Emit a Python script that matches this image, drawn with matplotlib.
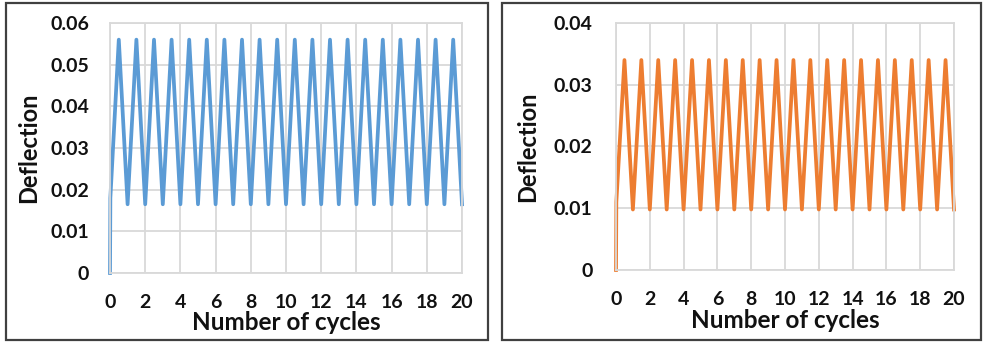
"""
Deflection vs number of cycles: two side-by-side panels.
"""

import matplotlib.pyplot as plt
from matplotlib.patches import Rectangle

plt.rcParams["font.family"] = ["Lato", "DejaVu Sans"]
plt.rcParams["font.weight"] = "bold"

# time axis (cycles) and deflection values
cycles = [0, 0.02, 0.5, 1, 1.5, 2, 2.5, 3, 3.5, 4, 4.5, 5, 5.5, 6, 6.5, 7,
          7.5, 8, 8.5, 9, 9.5, 10, 10.5, 11, 11.5, 12, 12.5, 13, 13.5, 14,
          14.5, 15, 15.5, 16, 16.5, 17, 17.5, 18, 18.5, 19, 19.5, 20]

defl_left = [0, 0.018,
             0.056, 0.0165, 0.056, 0.0165, 0.056, 0.0165, 0.056, 0.0165,
             0.056, 0.0165, 0.056, 0.0165, 0.056, 0.0165, 0.056, 0.0165,
             0.056, 0.0165, 0.056, 0.0165, 0.056, 0.0165, 0.056, 0.0165,
             0.056, 0.0165, 0.056, 0.0165, 0.056, 0.0165, 0.056, 0.0165,
             0.056, 0.0165, 0.056, 0.0165, 0.056, 0.0165, 0.056, 0.0165]

defl_right = [0, 0.011,
              0.034, 0.0098, 0.034, 0.0098, 0.034, 0.0098, 0.034, 0.0098,
              0.034, 0.0098, 0.034, 0.0098, 0.034, 0.0098, 0.034, 0.0098,
              0.034, 0.0098, 0.034, 0.0098, 0.034, 0.0098, 0.034, 0.0098,
              0.034, 0.0098, 0.034, 0.0098, 0.034, 0.0098, 0.034, 0.0098,
              0.034, 0.0098, 0.034, 0.0098, 0.034, 0.0098, 0.034, 0.0098]

x_ticks = [0, 2, 4, 6, 8, 10, 12, 14, 16, 18, 20]
y_ticks_left = [0, 0.01, 0.02, 0.03, 0.04, 0.05, 0.06]
y_labels_left = ["0", "0.01", "0.02", "0.03", "0.04", "0.05", "0.06"]
y_ticks_right = [0, 0.01, 0.02, 0.03, 0.04]
y_labels_right = ["0", "0.01", "0.02", "0.03", "0.04"]

GRID = "#d9d9d9"
TEXT = "#111111"
W, H = 984, 344


def style_axes(ax, yticks, ylabels, ypad):
    ax.set_xlim(0, 20)
    ax.set_ylim(yticks[0], yticks[-1])
    ax.set_xticks(x_ticks)
    ax.set_xticklabels([str(t) for t in x_ticks])
    ax.set_yticks(yticks)
    ax.set_yticklabels(ylabels)
    ax.grid(True, color=GRID, linewidth=1.3)
    ax.set_axisbelow(True)
    for sp in ax.spines.values():
        sp.set_color(GRID)
        sp.set_linewidth(1.3)
    ax.tick_params(length=0, labelsize=14, colors=TEXT)
    ax.tick_params(axis="x", pad=15)
    ax.tick_params(axis="y", pad=ypad)


fig = plt.figure(figsize=(W / 100, H / 100), dpi=100)

ax1 = fig.add_axes([110 / W, 1 - 273 / H, 352 / W, 250 / H])
ax1.plot(cycles, defl_left, color="#5B9BD5", linewidth=2.7, clip_on=False)
style_axes(ax1, y_ticks_left, y_labels_left, 15)

ax2 = fig.add_axes([616 / W, 1 - 270 / H, 338 / W, 247 / H])
ax2.plot(cycles, defl_right, color="#ED7D31", linewidth=2.7, clip_on=False)
style_axes(ax2, y_ticks_right, y_labels_right, 17)

# axis titles
fig.text(29 / W, 1 - 148 / H, "Deflection", rotation=90, ha="center",
         va="center", fontsize=17, color=TEXT)
fig.text(286 / W, 1 - 322 / H, "Number of cycles", ha="center",
         va="center", fontsize=17.5, color=TEXT)
fig.text(528 / W, 1 - 147 / H, "Deflection", rotation=90, ha="center",
         va="center", fontsize=17, color=TEXT)
fig.text(785 / W, 1 - 320 / H, "Number of cycles", ha="center",
         va="center", fontsize=17.5, color=TEXT)

# panel frames
for x0, x1 in [(6, 488), (502, 981)]:
    fig.patches.append(Rectangle((x0 / W, 4 / H), (x1 - x0) / W, 337 / H,
                                 transform=fig.transFigure, fill=False,
                                 edgecolor="#404040", linewidth=1.6))

fig.savefig("out.png", dpi=100)
